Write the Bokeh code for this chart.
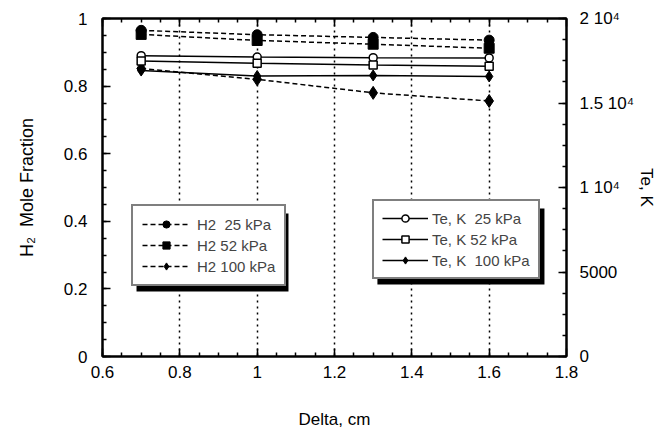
from bokeh.plotting import figure
from bokeh.models import (Range1d, LinearAxis, FixedTicker, Legend, LegendItem,
                          CustomJSTickFormatter, BoxAnnotation)
from bokeh.embed import file_html
from bokeh.resources import INLINE

# ---- data ----
delta = [0.7, 1.0, 1.3, 1.6]
h2_25 = [0.965, 0.952, 0.944, 0.936]
h2_52 = [0.953, 0.935, 0.924, 0.912]
h2_100 = [0.852, 0.820, 0.780, 0.756]
te_25 = [17800, 17720, 17680, 17670]
te_52 = [17480, 17350, 17250, 17180]
te_100 = [16920, 16600, 16630, 16570]

x_ticks = [0.6, 0.8, 1.0, 1.2, 1.4, 1.6, 1.8]
y_ticks = [0, 0.2, 0.4, 0.6, 0.8, 1.0]
te_ticks = [0, 5000, 10000, 15000, 20000]
te_tick_labels = {0: "0", 5000: "5000", 10000: "1 10\u2074", 15000: "1.5 10\u2074", 20000: "2 10\u2074"}

FONT = "Liberation Sans"

p = figure(frame_width=464, frame_height=338, output_backend="svg", toolbar_location=None,
           x_range=Range1d(0.6, 1.8), y_range=Range1d(0, 1),
           min_border_left=102, min_border_right=87, min_border_top=18, min_border_bottom=69,
           x_axis_label="Delta, cm", y_axis_label="H\u2082\u00a0 Mole Fraction")
p.extra_y_ranges = {"te": Range1d(0, 20000)}
p.outline_line_color = "black"
p.outline_line_width = 2
p.background_fill_color = "white"
p.border_fill_color = "white"

num_fmt = CustomJSTickFormatter(code="return String(Math.round(tick*10)/10);")

minor_x = [0.6 + 0.05 * i for i in range(25)]
minor_y = [0.05 * i for i in range(21)]
minor_te = [1250 * i for i in range(17)]


def style_axis(ax):
    ax.axis_line_width = 2
    ax.major_tick_in = 8
    ax.major_tick_out = 0
    ax.minor_tick_in = 4
    ax.minor_tick_out = 0
    ax.major_tick_line_width = 1.5
    ax.minor_tick_line_width = 1.5
    ax.major_label_text_font = FONT
    ax.major_label_text_font_size = "17px"
    ax.major_label_text_color = "black"
    ax.axis_label_text_font = FONT
    ax.axis_label_text_font_size = "17px"
    ax.axis_label_text_font_style = "normal"
    ax.axis_label_text_color = "black"


xa = p.xaxis[0]
xa.ticker = FixedTicker(ticks=x_ticks, minor_ticks=minor_x)
xa.formatter = num_fmt
style_axis(xa)
xa.major_label_standoff = 9
xa.axis_label_standoff = 29

ya = p.yaxis[0]
ya.ticker = FixedTicker(ticks=y_ticks, minor_ticks=minor_y)
ya.formatter = num_fmt
style_axis(ya)
ya.major_label_standoff = 15
ya.axis_label_standoff = 24
ya.axis_label_text_font_size = "18px"

top = LinearAxis(ticker=FixedTicker(ticks=x_ticks, minor_ticks=minor_x),
                 formatter=CustomJSTickFormatter(code="return '';"))
style_axis(top)
top.major_label_standoff = 0
top.major_label_text_font_size = "0px"
p.add_layout(top, "above")

ra = LinearAxis(y_range_name="te", axis_label="Te, K",
                ticker=FixedTicker(ticks=te_ticks, minor_ticks=minor_te))
ra.major_label_overrides = te_tick_labels
style_axis(ra)
ra.major_label_standoff = 13
ra.axis_label_standoff = 0
p.add_layout(ra, "right")

p.ygrid.visible = False
p.xgrid.ticker = FixedTicker(ticks=x_ticks)
p.xgrid.grid_line_color = "black"
p.xgrid.grid_line_dash = "dotted"
p.xgrid.grid_line_width = 1.5

# H2 series (dashed, filled markers)
DASH = "5 3"
l1 = p.line(delta, h2_25, line_color="black", line_width=1.5, line_dash=DASH)
m1 = p.scatter(delta, h2_25, marker="circle", size=10, fill_color="black", line_color="black")
l2 = p.line(delta, h2_52, line_color="black", line_width=1.5, line_dash=DASH)
m2 = p.scatter(delta, h2_52, marker="square", size=10, fill_color="black", line_color="black")
l3 = p.line(delta, h2_100, line_color="black", line_width=1.5, line_dash=DASH)
m3 = p.scatter(delta, h2_100, marker="diamond", size=13, fill_color="black", line_color="black")

# Te series (solid)
t1 = p.line(delta, te_25, y_range_name="te", line_color="black", line_width=1.5)
n1 = p.scatter(delta, te_25, y_range_name="te", marker="circle", size=8,
               fill_color="white", line_color="black", line_width=1.5)
t2 = p.line(delta, te_52, y_range_name="te", line_color="black", line_width=1.5)
n2 = p.scatter(delta, te_52, y_range_name="te", marker="square", size=8,
               fill_color="white", line_color="black", line_width=1.5)
t3 = p.line(delta, te_100, y_range_name="te", line_color="black", line_width=1.5)
n3 = p.scatter(delta, te_100, y_range_name="te", marker="diamond", size=11,
               fill_color="black", line_color="black")

# drop shadows behind the two legend boxes (decoration)
p.add_layout(BoxAnnotation(left=0.688, right=1.081, top=0.423, bottom=0.192,
                           fill_color="black", fill_alpha=1, line_color=None))
p.add_layout(BoxAnnotation(left=1.311, right=1.743, top=0.438, bottom=0.213,
                           fill_color="black", fill_alpha=1, line_color=None))


def style_legend(lg, pad, gw, stand):
    lg.border_line_color = "black"
    lg.border_line_width = 2
    lg.background_fill_color = "white"
    lg.background_fill_alpha = 1
    lg.label_text_font = FONT
    lg.label_text_font_size = "15px"
    lg.label_height = 18
    lg.glyph_height = 18
    lg.glyph_width = gw
    lg.label_standoff = stand
    lg.spacing = 3
    lg.padding = pad
    lg.margin = 0


leg1 = Legend(items=[LegendItem(label="H2  25 kPa", renderers=[l1, m1]),
                     LegendItem(label="H2 52 kPa", renderers=[l2, m2]),
                     LegendItem(label="H2 100 kPa", renderers=[l3, m3])],
              location=(29, 70))
style_legend(leg1, 9, 48, 7)
leg2 = Legend(items=[LegendItem(label="Te, K  25 kPa", renderers=[t1, n1]),
                     LegendItem(label="Te, K 52 kPa", renderers=[t2, n2]),
                     LegendItem(label="Te, K  100 kPa", renderers=[t3, n3])],
              location=(270, 77))
style_legend(leg2, 8, 46, 4)
p.add_layout(leg1, "center")
p.add_layout(leg2, "center")

open("out.html", "w").write(file_html(p, INLINE))
